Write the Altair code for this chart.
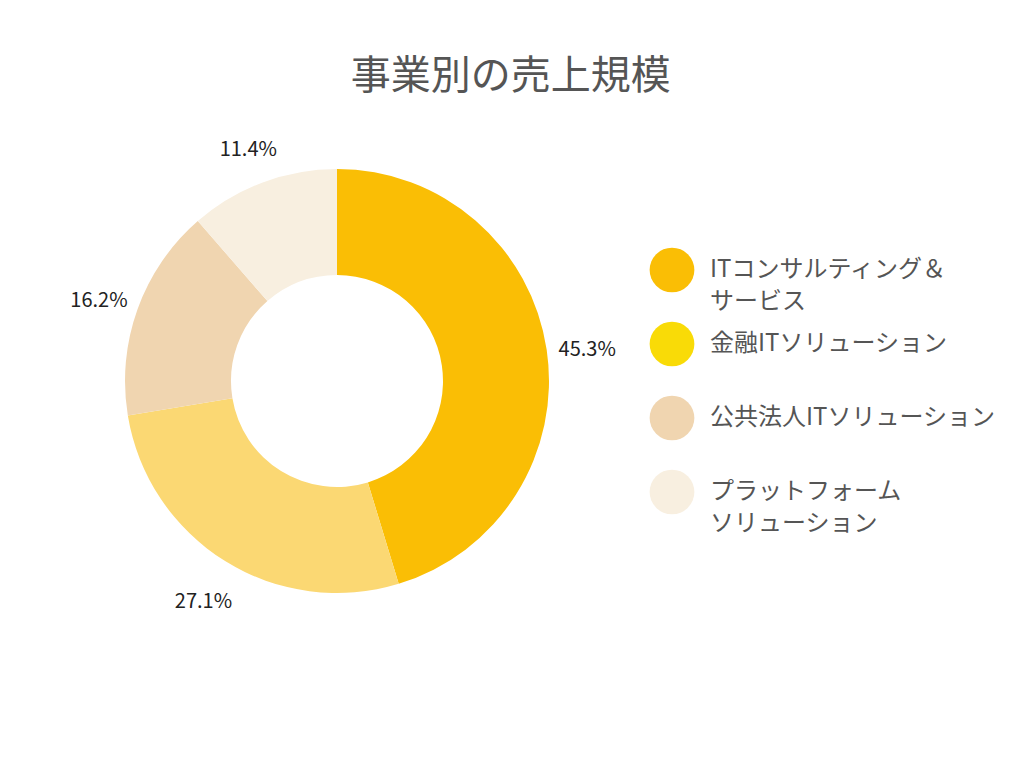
import altair as alt
import pandas as pd

categories = ["ITコンサルティング＆サービス", "金融ITソリューション", "公共法人ITソリューション", "プラットフォームソリューション"]
legend_labels = ["ITコンサルティング＆\nサービス", "金融ITソリューション", "公共法人ITソリューション", "プラットフォーム\nソリューション"]
shares = [45.3, 27.1, 16.2, 11.4]
slice_colors = ["#FABE05", "#FBD873", "#F0D5B0", "#F8EFE0"]
legend_colors = ["#FABE05", "#F9DB07", "#F0D5B0", "#F8EFE0"]
order = [0, 1, 2, 3]

FONT = "Noto Sans CJK JP"

df = pd.DataFrame({
    "category": categories,
    "share": shares,
    "order": order,
    "label": [f"{v:.1f}%" for v in shares],
    "legend_label": legend_labels,
})

base = alt.Chart(df).encode(
    theta=alt.Theta("share:Q", stack=True),
    order=alt.Order("order:Q"),
)

arcs = base.mark_arc(outerRadius=212, innerRadius=106).encode(
    color=alt.Color("category:N", scale=alt.Scale(domain=categories, range=slice_colors), legend=None),
)

labels = base.mark_text(radius=253, dy=6, font=FONT, fontSize=20, color="#222222").encode(
    text="label:N",
)

pie = alt.layer(arcs, labels).properties(width=424, height=424)

leg_base = alt.Chart(df).encode(
    y=alt.Y("category:N", sort=categories, axis=None, scale=alt.Scale(type="point", padding=0.5)),
)
leg_points = leg_base.mark_point(filled=True, shape="circle", size=2000, opacity=1).encode(
    x=alt.value(25),
    color=alt.Color("category:N", scale=alt.Scale(domain=categories, range=legend_colors), legend=None),
)
leg_text = leg_base.mark_text(align="left", baseline="middle", font=FONT, fontSize=24,
                              color="#555555", lineBreak="\n", lineHeight=32).encode(
    x=alt.value(63),
    text="legend_label:N",
)
legend = alt.layer(leg_points, leg_text).resolve_scale(color="independent").properties(width=340, height=296)

chart = alt.hconcat(pie, legend, spacing=98, bounds="flush", center=True).resolve_scale(color="independent").properties(
    title=alt.TitleParams("事業別の売上規模", font=FONT, fontSize=40, fontWeight="normal",
                          color="#555555", anchor="middle", offset=43, dx=-22),
    padding={"left": 70, "top": 57, "right": 5, "bottom": 5},
    background="white",
).configure_view(strokeWidth=0, stroke=None)

chart.save("out.html", embed_options={"renderer": "svg", "actions": False})
